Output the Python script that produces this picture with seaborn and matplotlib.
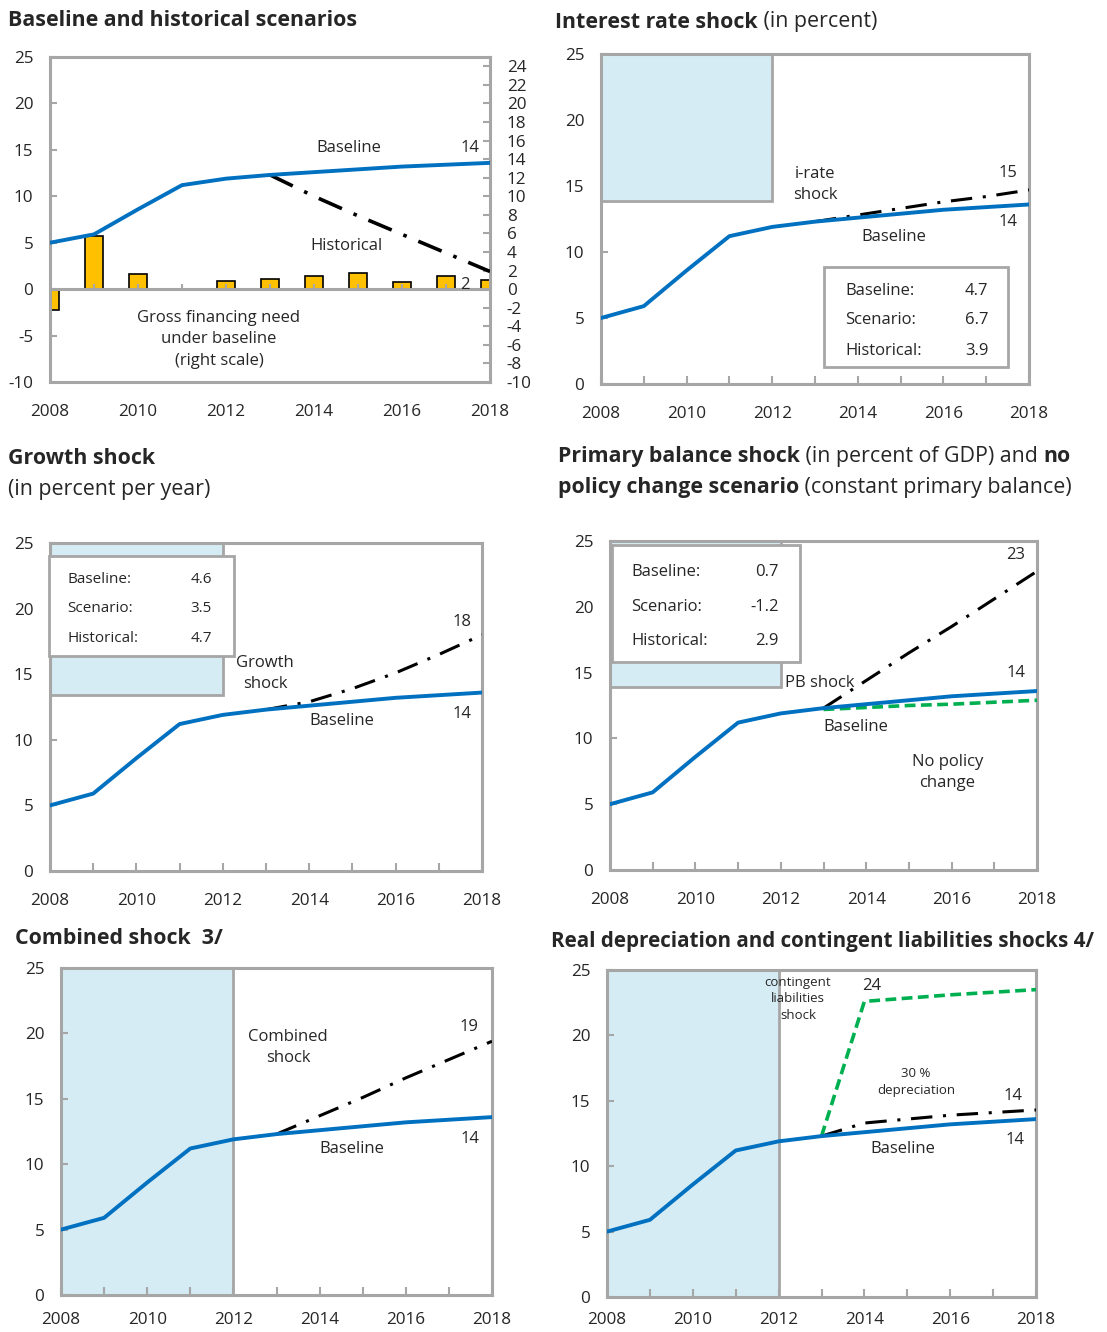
import matplotlib
matplotlib.use("Agg")
import matplotlib.pyplot as plt
import seaborn as sns
from matplotlib.patches import Rectangle

# data
years = [2008, 2009, 2010, 2011, 2012, 2013, 2014, 2015, 2016, 2017, 2018]
proj_years = [2013, 2014, 2015, 2016, 2017, 2018]
baseline = [5.0, 5.9, 8.6, 11.2, 11.9, 12.3, 12.6, 12.9, 13.2, 13.4, 13.6]
historical = [12.3, 10.0, 7.9, 5.9, 3.9, 1.9]
gfn = [-2.2, 5.7, 1.6, -0.1, 0.9, 1.1, 1.4, 1.7, 0.8, 1.4, 1.0]
irate_shock = [12.3, 12.8, 13.3, 13.8, 14.2, 14.7]
growth_shock = [12.3, 12.9, 13.9, 15.1, 16.5, 18.0]
pb_shock = [12.3, 14.4, 16.5, 18.5, 20.6, 22.7]
no_policy = [12.2, 12.35, 12.5, 12.6, 12.75, 12.9]
combined_shock = [12.3, 13.7, 15.1, 16.6, 18.0, 19.4]
contingent = [12.3, 22.6, 22.85, 23.1, 23.3, 23.5]
depreciation = [12.3, 13.3, 13.6, 13.9, 14.1, 14.3]

box_labels = ["Baseline:", "Scenario:", "Historical:"]
irate_box = ["4.7", "6.7", "3.9"]
growth_box = ["4.6", "3.5", "4.7"]
pb_box = ["0.7", "-1.2", "2.9"]

BLUE = "#0070C0"
GREEN = "#00B050"
GRAY = "#A6A6A6"
SHADE = "#D5ECF4"
DASHDOT = (0, (7, 3.5, 1, 3.5))

sns.set_theme(style="white")
plt.rcParams["font.family"] = ["Open Sans", "DejaVu Sans"]
plt.rcParams["font.size"] = 12
plt.rcParams["axes.unicode_minus"] = False

W, H = 1107, 1332
fig = plt.figure(figsize=(W / 100, H / 100), dpi=100)


def px_axes(l, r, t, b):
    return fig.add_axes([l / W, 1 - b / H, (r - l) / W, (b - t) / H])


def style(ax, bottom_ticks=True, xpad=16):
    ax.set_xlim(2008, 2018)
    ax.set_ylim(0, 25)
    ax.set_xticks([2008, 2010, 2012, 2014, 2016, 2018])
    ax.set_xticks(years, minor=True)
    ax.set_yticks([0, 5, 10, 15, 20, 25])
    for s in ax.spines.values():
        s.set_color(GRAY)
        s.set_linewidth(2.2)
    ax.tick_params(axis="y", direction="in", length=5, width=1.5, color=GRAY,
                   pad=12, labelsize=12.3, left=True)
    if bottom_ticks:
        ax.tick_params(axis="x", which="both", direction="in", length=6, width=1.5,
                       color=GRAY, pad=xpad, labelsize=12.3, bottom=True)
    else:
        ax.tick_params(axis="x", which="both", length=0, pad=xpad, labelsize=12.3)
    ax.set_xlabel("")
    ax.set_ylabel("")
    ax.grid(False)


def base_line(ax):
    sns.lineplot(x=years, y=baseline, color=BLUE, lw=2.8, ax=ax, zorder=5)


def scen_line(ax, vals, color="black", ls=DASHDOT, lw=2.2):
    sns.lineplot(x=proj_years, y=vals, color=color, lw=lw, linestyle=ls, ax=ax, zorder=4)


def info_box(ax, x0, x1, y0, y1, rows_y, lab_x, val_x, vals, size):
    ax.add_patch(Rectangle((x0, y0), x1 - x0, y1 - y0, facecolor="white",
                           edgecolor=GRAY, lw=2, zorder=6, clip_on=False))
    for lab, v, yy in zip(box_labels, vals, rows_y):
        ax.text(lab_x, yy, lab, fontsize=size, va="center", ha="left", zorder=7)
        ax.text(val_x, yy, v, fontsize=size, va="center", ha="right", zorder=7)


def rich(x, y, parts, size=15.4):
    r = fig.canvas.get_renderer()
    xf = x / W
    for txt, wt in parts:
        t = fig.text(xf, 1 - y / H, txt, fontsize=size, fontweight=wt, va="center", ha="left")
        bb = t.get_window_extent(renderer=r)
        xf = (bb.x1) / W


# ---------- panel 1 ----------
ax1 = px_axes(50, 490, 57, 382)
ax1r = ax1.twinx()
sns.barplot(x=years, y=gfn, native_scale=True, width=0.4, color="#FFC000",
            edgecolor="black", linewidth=1.2, saturation=1, ax=ax1r)
ax1r.set_ylim(-10, 25)
ax1r.set_yticks(list(range(-10, 25, 2)))
ax1r.tick_params(axis="y", direction="in", length=5, width=1.5, color=GRAY,
                 pad=12, labelsize=12.3, right=True)
ax1r.set_ylabel("")
ax1.set_zorder(ax1r.get_zorder() + 1)
ax1.patch.set_visible(False)
base_line(ax1)
scen_line(ax1, historical, lw=2.6)
style(ax1, bottom_ticks=False)
ax1.set_ylim(-10, 25)
ax1.set_yticks([-10, -5, 0, 5, 10, 15, 20, 25])
ax1.axhline(0, color=GRAY, lw=2.2, zorder=3)
ax1.vlines(years, 0, 0.6, color=GRAY, lw=1.5, zorder=3)
for s in ax1r.spines.values():
    s.set_visible(False)
ax1.text(2014.8, 15.2, "Baseline", ha="center", va="center")
ax1.text(2017.55, 15.2, "14", ha="center", va="center")
ax1.text(2014.75, 4.6, "Historical", ha="center", va="center")
ax1.text(2017.43, 0.4, "2", ha="center", va="center")
ax1.text(2011.84, -5.4, "Gross financing need\nunder baseline\n(right scale)",
         ha="center", va="center", linespacing=1.45)

# ---------- panel 2 ----------
ax2 = px_axes(601, 1029, 54, 384)
ax2.add_patch(Rectangle((2008, 13.85), 4, 11.15, facecolor=SHADE, edgecolor=GRAY, lw=2, zorder=1))
base_line(ax2)
scen_line(ax2, irate_shock)
style(ax2)
ax2.text(2013.0, 15.1, "i-rate\nshock", ha="center", va="center", linespacing=1.45)
ax2.text(2017.5, 16.0, "15", ha="center", va="center")
ax2.text(2017.5, 12.3, "14", ha="center", va="center")
ax2.text(2014.85, 11.1, "Baseline", ha="center", va="center")
info_box(ax2, 2013.2, 2017.5, 1.3, 8.9, [7.05, 4.85, 2.5], 2013.7, 2017.05, irate_box, 12)

# ---------- panel 3 ----------
ax3 = px_axes(50, 482, 543, 871)
ax3.add_patch(Rectangle((2008, 13.4), 4, 11.6, facecolor=SHADE, edgecolor=GRAY, lw=2, zorder=1))
base_line(ax3)
scen_line(ax3, growth_shock)
style(ax3)
info_box(ax3, 2007.97, 2012.25, 16.4, 24.0, [22.25, 19.97, 17.7], 2008.4, 2011.75, growth_box, 11)
ax3.text(2012.98, 15.05, "Growth\nshock", ha="center", va="center", linespacing=1.45)
ax3.text(2017.54, 19.0, "18", ha="center", va="center")
ax3.text(2017.54, 12.0, "14", ha="center", va="center")
ax3.text(2014.76, 11.4, "Baseline", ha="center", va="center")

# ---------- panel 4 ----------
ax4 = px_axes(610, 1037, 541, 870)
ax4.add_patch(Rectangle((2008, 13.9), 4, 11.1, facecolor=SHADE, edgecolor=GRAY, lw=2, zorder=1))
base_line(ax4)
scen_line(ax4, pb_shock)
scen_line(ax4, no_policy, color=GREEN, ls=(0, (3, 1.5)), lw=2.6)
style(ax4)
info_box(ax4, 2008.05, 2012.45, 15.8, 24.7, [22.65, 20.0, 17.4], 2008.5, 2011.95, pb_box, 12)
ax4.text(2012.1, 14.2, "PB shock", ha="left", va="center")
ax4.text(2017.5, 23.9, "23", ha="center", va="center")
ax4.text(2017.5, 15.0, "14", ha="center", va="center")
ax4.text(2013.76, 10.9, "Baseline", ha="center", va="center")
ax4.text(2015.9, 7.4, "No policy\nchange", ha="center", va="center", linespacing=1.45)

# ---------- panel 5 ----------
ax5 = px_axes(61, 492, 968, 1295)
ax5.axvspan(2008, 2012, color=SHADE, zorder=0)
ax5.axvline(2012, color=GRAY, lw=2, zorder=1)
base_line(ax5)
scen_line(ax5, combined_shock)
style(ax5, xpad=12)
ax5.text(2013.27, 18.9, "Combined\nshock", ha="center", va="center", linespacing=1.45)
ax5.text(2017.47, 20.5, "19", ha="center", va="center")
ax5.text(2017.5, 11.9, "14", ha="center", va="center")
ax5.text(2014.75, 11.2, "Baseline", ha="center", va="center")

# ---------- panel 6 ----------
ax6 = px_axes(607, 1036, 970, 1297)
ax6.axvspan(2008, 2012, color=SHADE, zorder=0)
ax6.axvline(2012, color=GRAY, lw=2, zorder=1)
base_line(ax6)
scen_line(ax6, depreciation)
scen_line(ax6, contingent, color=GREEN, ls=(0, (3, 1.5)), lw=2.6)
style(ax6, xpad=11)
ax6.text(2012.45, 22.8, "contingent\nliabilities\nshock", ha="center", va="center",
         fontsize=9.5, linespacing=1.35)
ax6.text(2014.18, 23.8, "24", ha="center", va="center")
ax6.text(2015.2, 16.4, "30 %\ndepreciation", ha="center", va="center",
         fontsize=9.5, linespacing=1.4)
ax6.text(2017.46, 15.4, "14", ha="center", va="center")
ax6.text(2017.5, 12.0, "14", ha="center", va="center")
ax6.text(2014.9, 11.35, "Baseline", ha="center", va="center")

# ---------- titles ----------
rich(8, 21, [("Baseline and historical scenarios", "bold")])
rich(555, 22, [("Interest rate shock", "bold"), (" (in percent)", "normal")])
rich(8, 458, [("Growth shock", "bold")])
rich(8, 490, [("(in percent per year)", "normal")])
rich(558, 456, [("Primary balance shock", "bold"), (" (in percent of GDP) and ", "normal"),
                ("no", "bold")])
rich(558, 487, [("policy change scenario", "bold"), (" (constant primary balance)", "normal")])
rich(15, 938, [("Combined shock  3/", "bold")])
rich(551, 941, [("Real depreciation and contingent liabilities shocks 4/", "bold")], size=14.9)

fig.savefig("out.png", dpi=100)
